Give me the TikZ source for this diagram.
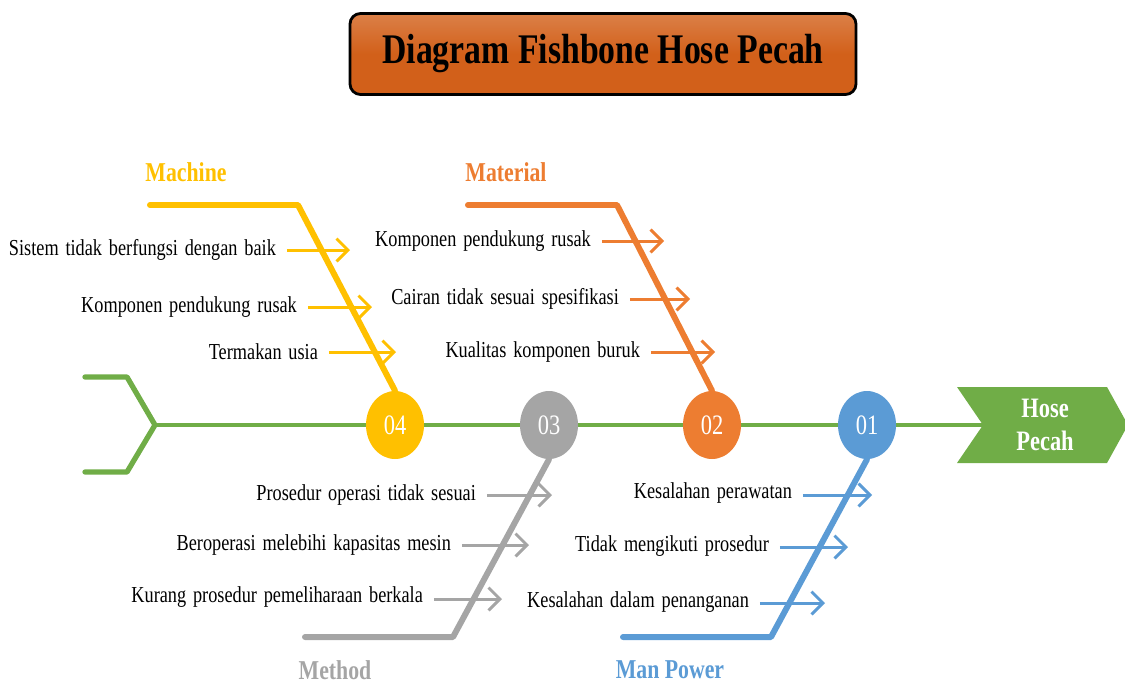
\documentclass[tikz,border=0pt]{standalone}
\usepackage{fontspec}
\setmainfont{Liberation Serif}[FakeStretch=0.8]
\newfontfamily\causefont{Liberation Serif}[FakeStretch=0.8,WordSpace=1.5]
\usetikzlibrary{arrows.meta,shapes.geometric}
\definecolor{machinec}{HTML}{FFC000}
\definecolor{materialc}{HTML}{ED7D31}
\definecolor{methodc}{HTML}{A5A5A5}
\definecolor{manc}{HTML}{5B9BD5}
\definecolor{spinec}{HTML}{70AD47}
\definecolor{titlec}{HTML}{D2601A}
\tikzset{
  bone/.style={line width=3.4pt, line cap=round, line join=round},
  cause/.style={anchor=east, inner sep=1pt, font=\causefont\fontsize{13}{15}\selectfont},
  causearrow/.style={line width=1.7pt, -{Straight Barb[length=6.5pt,width=13pt,line width=1.7pt]}},
  category/.style={font=\fontsize{15.5}{18}\selectfont\bfseries},
  numdot/.style={ellipse, minimum width=58*0.02cm, minimum height=68*0.02cm, inner sep=0pt,
    text=white, font=\fontsize{16}{18}\selectfont},
}
\begin{document}
\begin{tikzpicture}[x=0.02cm, y=-0.02cm]
\useasboundingbox (0,0) rectangle (1125,684);
% title
\node[draw=black, line width=1.6pt, rounded corners=6pt, top color=titlec!80!white, bottom color=titlec,
  middle color=titlec, minimum width=506*0.02cm, minimum height=81*0.02cm,
  font=\fontsize{24}{28}\selectfont\bfseries] (title) at (603,54) {Diagram Fishbone Hose Pecah};
%
% tail and spine
\coordinate (tail) at (155,425);
\draw[bone, spinec, line width=3pt] (85,377) -- (127,377) -- (tail) -- (127,472) -- (85,472);
\fill[spinec] (957,387) -- (1107,387) -- (1128,425) -- (1107,463) -- (957,463) -- (983,425) -- cycle;
\node[text=white, align=center, font=\fontsize{16}{19}\selectfont\bfseries] (head) at (1045,425) {Hose\\Pecah};
\coordinate (notch) at (983,425);
\draw[spinec, line width=2pt] (tail) -- (notch);
%
% numbered dots
\node[numdot, fill=machinec] (n4) at (395,425) {04};
\node[numdot, fill=methodc] (n3) at (549,425) {03};
\node[numdot, fill=materialc] (n2) at (712,425) {02};
\node[numdot, fill=manc] (n1) at (867,425) {01};
%
% Machine
\node[category, text=machinec] (machine) at (186,172) {Machine};
\draw[bone, machinec] (150,205) -- (298,205) -- (n4.north);
\node[cause] (ma1) at (278,250) {Sistem tidak berfungsi dengan baik};
\node[cause] (ma2) at (299,307) {Komponen pendukung rusak};
\node[cause] (ma3) at (320,352) {Termakan usia};
\coordinate (ma1e) at (350,250);
\coordinate (ma2e) at (372,307);
\coordinate (ma3e) at (396,352);
\draw[causearrow, machinec] ([xshift=5pt]ma1.east) -- (ma1e);
\draw[causearrow, machinec] ([xshift=5pt]ma2.east) -- (ma2e);
\draw[causearrow, machinec] ([xshift=5pt]ma3.east) -- (ma3e);
%
% Material
\node[category, text=materialc] (material) at (506,172) {Material};
\draw[bone, materialc] (468,205) -- (617,205) -- (n2.north);
\node[cause] (mt1) at (593,241) {Komponen pendukung rusak};
\node[cause] (mt2) at (621,299) {Cairan tidak sesuai spesifikasi};
\node[cause] (mt3) at (642,352) {Kualitas komponen buruk};
\coordinate (mt1e) at (664,241);
\coordinate (mt2e) at (690,299);
\coordinate (mt3e) at (715,352);
\draw[causearrow, materialc] ([xshift=5pt]mt1.east) -- (mt1e);
\draw[causearrow, materialc] ([xshift=5pt]mt2.east) -- (mt2e);
\draw[causearrow, materialc] ([xshift=5pt]mt3.east) -- (mt3e);
%
% Method
\node[category, text=methodc] (method) at (335,670) {Method};
\draw[bone, methodc] (305,637) -- (453,637) -- (n3.south);
\node[cause] (me1) at (478,495) {Prosedur operasi tidak sesuai};
\node[cause] (me2) at (453,545) {Beroperasi melebihi kapasitas mesin};
\node[cause] (me3) at (425,597) {Kurang prosedur pemeliharaan berkala};
\coordinate (me1e) at (552,495);
\coordinate (me2e) at (529,545);
\coordinate (me3e) at (502,599);
\draw[causearrow, methodc] ([xshift=5pt]me1.east) -- (me1e);
\draw[causearrow, methodc] ([xshift=5pt]me2.east |- me2e) -- (me2e);
\draw[causearrow, methodc] ([xshift=5pt]me3.east |- me3e) -- (me3e);
%
% Man Power
\node[category, text=manc] (manpower) at (670,670) {Man Power};
\draw[bone, manc] (623,637) -- (771,637) -- (n1.south);
\node[cause] (mp1) at (794,493) {Kesalahan perawatan};
\node[cause] (mp2) at (771,546) {Tidak mengikuti prosedur};
\node[cause] (mp3) at (751,602) {Kesalahan dalam penanganan};
\coordinate (mp1e) at (872,495);
\coordinate (mp2e) at (848,547);
\coordinate (mp3e) at (825,603);
\draw[causearrow, manc] ([xshift=5pt]mp1.east |- mp1e) -- (mp1e);
\draw[causearrow, manc] ([xshift=5pt]mp2.east |- mp2e) -- (mp2e);
\draw[causearrow, manc] ([xshift=5pt]mp3.east |- mp3e) -- (mp3e);
\end{tikzpicture}
\end{document}
